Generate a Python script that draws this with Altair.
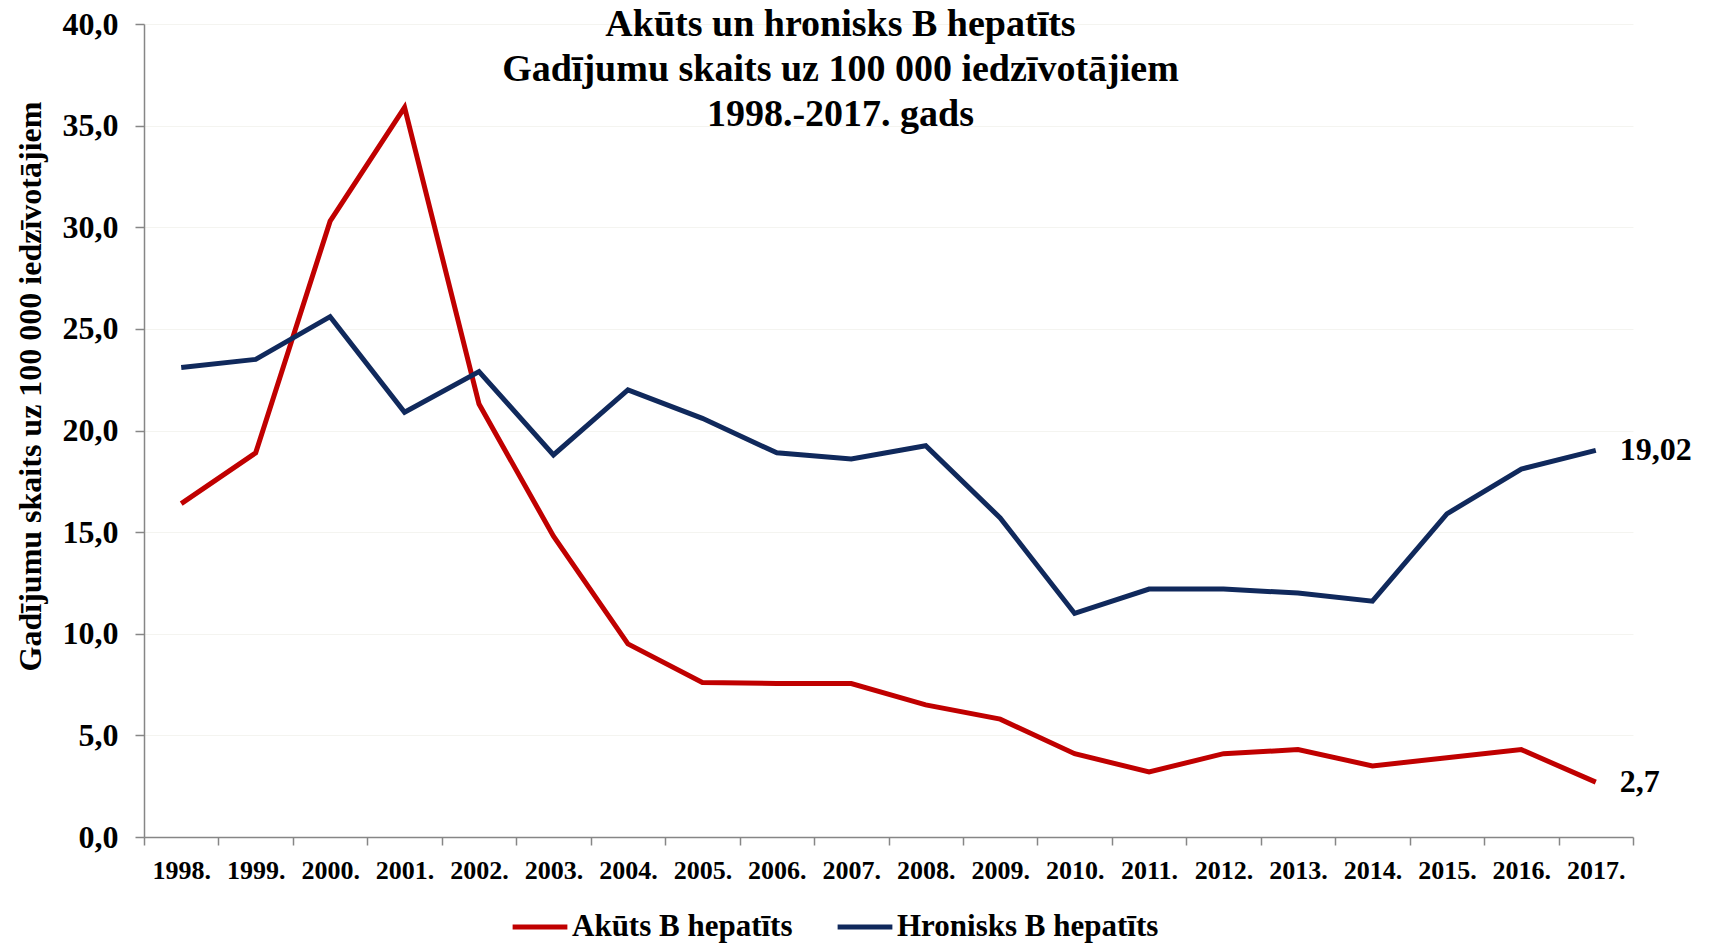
import altair as alt
import pandas as pd

years = list(range(1998, 2018))
akuts = [16.4, 18.9, 30.3, 35.9, 21.3, 14.8, 9.5, 7.6, 7.55, 7.55,
         6.5, 5.8, 4.1, 3.2, 4.1, 4.3, 3.5, 3.9, 4.3, 2.7]
hronisks = [23.1, 23.5, 25.6, 20.9, 22.9, 18.8, 22.0, 20.6, 18.9, 18.6,
            19.25, 15.7, 11.0, 12.2, 12.2, 12.0, 11.6, 15.9, 18.1, 19.02]
series_names = ["Akūts B hepatīts", "Hronisks B hepatīts"]
series_colors = ["#C00000", "#10295C"]
title_lines = ["Akūts  un  hronisks  B  hepatīts",
               "Gadījumu  skaits  uz  100 000  iedzīvotājiem",
               "1998.-2017. gads"]
y_title = "Gadījumu  skaits  uz  100 000  iedzīvotājiem"

rows = []
for s, vals in zip(series_names, [akuts, hronisks]):
    for y, v in zip(years, vals):
        rows.append({"year": y, "value": v, "series": s,
                     "label": str(v).replace(".", ",")})
df = pd.DataFrame(rows)

W, H = 1489, 813
FONT = "Liberation Serif"
band = W / len(years)

x_enc = alt.X("year:Q",
              scale=alt.Scale(domain=[years[0] - 0.5, years[-1] + 0.5], nice=False, zero=False),
              axis=alt.Axis(values=[y - 0.5 for y in years] + [years[-1] + 0.5],
                            labelExpr=f"datum.value > {years[-1]} ? '' : (datum.value + 0.5) + '.'",
                            labelOffset=band / 2, labelFlush=False, labelOverlap=False,
                            labelFont=FONT, labelFontSize=26, labelFontWeight="bold",
                            labelColor="black", labelPadding=12,
                            tickSize=8, tickColor="#868686", domainColor="#868686",
                            domainWidth=1.5, tickWidth=1.5, grid=False, title=None))
y_enc = alt.Y("value:Q",
              scale=alt.Scale(domain=[0, 40], nice=False),
              axis=alt.Axis(values=list(range(0, 41, 5)),
                            labelExpr="replace(format(datum.value, '.1f'), '.', ',')",
                            labelFont=FONT, labelFontSize=32, labelFontWeight="bold",
                            labelColor="black", labelPadding=17,
                            tickSize=9, tickColor="#868686", domainColor="#868686",
                            domainWidth=1.5, tickWidth=1.5,
                            grid=True, gridColor="#f4f4f0", gridWidth=1,
                            title=y_title, titleFont=FONT, titleFontSize=32,
                            titleFontWeight="bold", titleColor="black",
                            titleAngle=270, titleX=-114, titleY=362,
                            titleAlign="center", titleBaseline="middle"))

color_enc = alt.Color("series:N",
                      scale=alt.Scale(domain=series_names, range=series_colors),
                      legend=alt.Legend(title=None, orient="none", direction="horizontal",
                                        legendX=366, legendY=873,
                                        symbolType="stroke", symbolSize=3000,
                                        symbolStrokeWidth=5, labelOffset=2,
                                        columnPadding=34, labelBaseline="middle",
                                        labelFont=FONT, labelFontSize=31,
                                        labelFontWeight="bold", labelColor="black",
                                        labelLimit=0))

lines = alt.Chart(df).mark_line(strokeWidth=5, strokeJoin="miter").encode(
    x=x_enc, y=y_enc, color=color_enc)

ends = alt.Chart(df).transform_filter(f"datum.year == {years[-1]}").mark_text(
    align="left", baseline="middle", dx=24, font=FONT, fontSize=32,
    fontWeight="bold", color="black").encode(
    x="year:Q", y="value:Q", text="label:N")

chart = alt.layer(lines, ends).properties(
    width=W, height=H,
    padding={"left": 136, "top": 16, "right": 69, "bottom": 106},
    autosize=alt.AutoSizeParams(type="none"),
    title=alt.TitleParams(text=title_lines, font=FONT, fontSize=38,
                          fontWeight="bold", color="black", lineHeight=45,
                          anchor="middle", frame="group", dx=-48,
                          baseline="top", offset=-126),
).configure_view(stroke=None)

chart.save("out.html", embed_options={"renderer": "svg", "actions": False})
